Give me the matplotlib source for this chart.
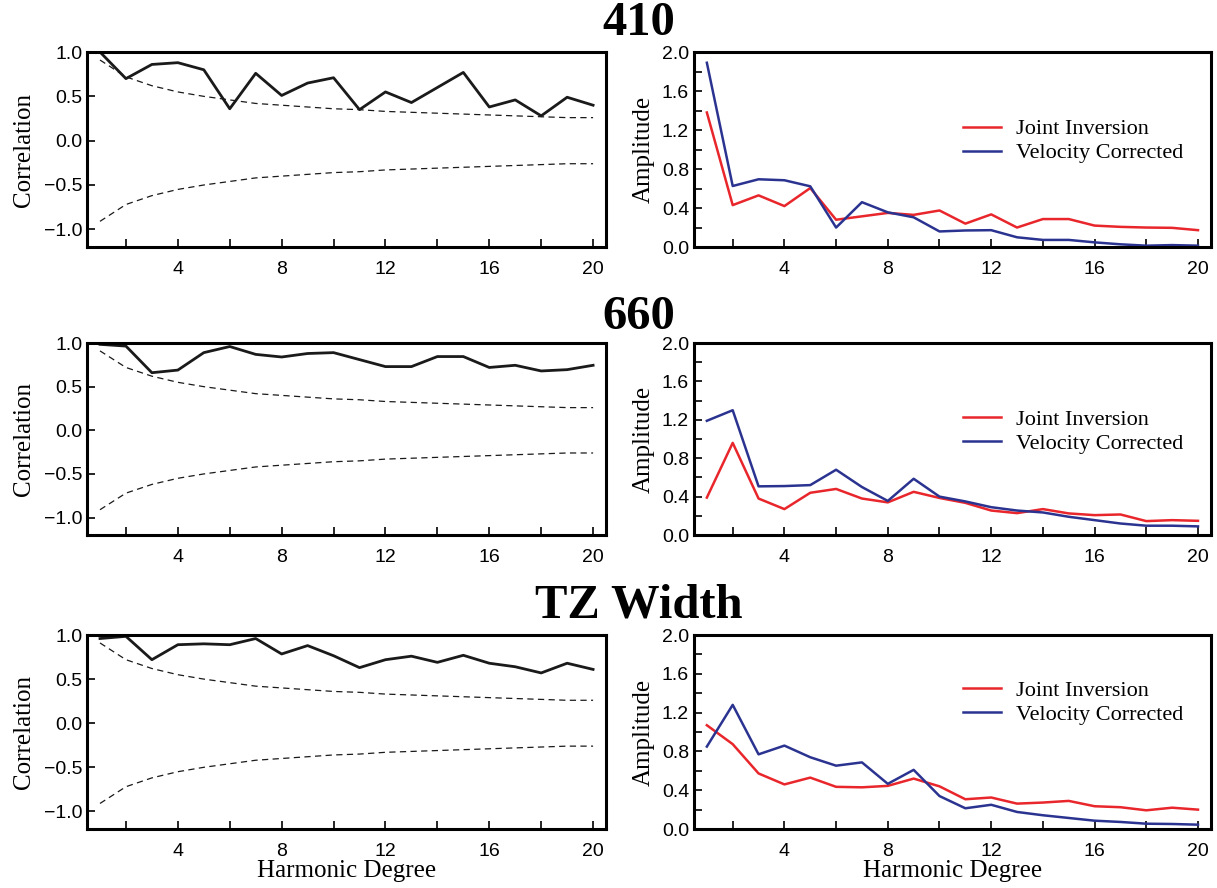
import matplotlib; matplotlib.use("Agg")
import matplotlib.pyplot as plt
from matplotlib.ticker import MultipleLocator
import numpy as np

deg = np.arange(1, 21)

# 95% significance bounds
sig = [0.91, 0.72, 0.62, 0.55, 0.50, 0.46, 0.42, 0.40, 0.38, 0.36,
       0.35, 0.33, 0.32, 0.31, 0.30, 0.29, 0.28, 0.27, 0.26, 0.26]

corr_410 = [1.00, 0.70, 0.86, 0.88, 0.80, 0.36, 0.76, 0.51, 0.65, 0.71,
            0.35, 0.55, 0.43, 0.60, 0.77, 0.38, 0.46, 0.28, 0.49, 0.40]
corr_660 = [0.985, 0.965, 0.66, 0.69, 0.89, 0.96, 0.87, 0.84, 0.88, 0.89,
            0.81, 0.73, 0.73, 0.845, 0.845, 0.72, 0.745, 0.68, 0.695, 0.745]
corr_tz = [0.96, 0.985, 0.72, 0.89, 0.90, 0.89, 0.96, 0.785, 0.88, 0.765,
           0.63, 0.72, 0.76, 0.69, 0.77, 0.68, 0.64, 0.57, 0.68, 0.61]

joint_410 = [1.38, 0.43, 0.53, 0.42, 0.605, 0.28, 0.315, 0.35, 0.33, 0.375,
             0.24, 0.335, 0.20, 0.287, 0.287, 0.22, 0.207, 0.20, 0.197, 0.173]
vel_410 = [1.89, 0.626, 0.695, 0.685, 0.623, 0.20, 0.46, 0.356, 0.305, 0.16,
           0.17, 0.173, 0.10, 0.073, 0.073, 0.048, 0.028, 0.014, 0.02, 0.014]
joint_660 = [0.39, 0.96, 0.38, 0.27, 0.44, 0.48, 0.38, 0.34, 0.45, 0.386,
             0.335, 0.255, 0.228, 0.27, 0.225, 0.207, 0.214, 0.145, 0.155, 0.148]
vel_660 = [1.19, 1.30, 0.507, 0.51, 0.52, 0.68, 0.50, 0.355, 0.586, 0.40,
           0.35, 0.29, 0.255, 0.235, 0.19, 0.155, 0.12, 0.097, 0.097, 0.09]
joint_tz = [1.07, 0.875, 0.573, 0.46, 0.53, 0.435, 0.43, 0.445, 0.52, 0.44,
            0.307, 0.325, 0.262, 0.273, 0.29, 0.235, 0.225, 0.193, 0.22, 0.20]
vel_tz = [0.85, 1.28, 0.77, 0.86, 0.74, 0.653, 0.687, 0.466, 0.61, 0.34,
          0.214, 0.25, 0.176, 0.142, 0.114, 0.086, 0.073, 0.055, 0.052, 0.045]

titles = ["410", "660", "TZ Width"]
corrs = [corr_410, corr_660, corr_tz]
joints = [joint_410, joint_660, joint_tz]
vels = [vel_410, vel_660, vel_tz]

SERIF = "Liberation Serif"
SANS = "Liberation Sans"
RED = "#e8262b"; BLUE = "#2b3390"

fig = plt.figure(figsize=(12.17, 8.88), dpi=100)
rows = [(0.7218, 0.2196), (0.3975, 0.2162), (0.0664, 0.2185)]
title_y = [0.974, 0.643, 0.318]
leg_y = [0.76, 0.76, 0.87]

def style(ax):
    for s in ax.spines.values():
        s.set_linewidth(2.2)
    ax.tick_params(direction="in", length=6, width=1.2, labelsize=14)
    ax.tick_params(which="minor", direction="in", length=6, width=1.2)
    ax.tick_params(axis="x", pad=10)
    for lab in ax.get_xticklabels() + ax.get_yticklabels():
        lab.set_family(SANS)
    ax.set_xlim(0.5, 20.5)
    ax.xaxis.set_major_locator(MultipleLocator(4))
    ax.xaxis.set_minor_locator(MultipleLocator(2))

for i, (b, h) in enumerate(rows):
    axl = fig.add_axes([0.0715, b, 0.4265, h])
    axl.plot(deg, corrs[i], color="#1a1a1a", lw=2.0)
    axl.plot(deg, sig, "--", color="#1a1a1a", lw=0.9, dashes=(5, 3.5))
    axl.plot(deg, -np.array(sig), "--", color="#1a1a1a", lw=0.9, dashes=(5, 3.5))
    axl.set_ylim(-1.2, 1.0)
    axl.set_yticks([-1.0, -0.5, 0.0, 0.5, 1.0])
    axl.set_ylabel("Correlation", family=SERIF, fontsize=18, labelpad=6)
    style(axl)

    axr = fig.add_axes([0.5702, b, 0.4248, h])
    axr.plot(deg, joints[i], color=RED, lw=1.8, label="Joint Inversion")
    axr.plot(deg, vels[i], color=BLUE, lw=1.8, label="Velocity Corrected")
    axr.set_ylim(0, 2.0)
    axr.yaxis.set_major_locator(MultipleLocator(0.4))
    axr.yaxis.set_minor_locator(MultipleLocator(0.2))
    axr.set_ylabel("Amplitude", family=SERIF, fontsize=18, labelpad=5)
    style(axr)
    axr.legend(loc="upper left", bbox_to_anchor=(0.482, leg_y[i]), frameon=False,
               prop={"family": SERIF, "size": 16}, handlelength=1.7,
               labelspacing=0.15, handletextpad=0.7)

    fig.text(0.525, title_y[i], titles[i], ha="center", va="center",
             family=SERIF, weight="bold", fontsize=35)

    if i == 2:
        axl.set_xlabel("Harmonic Degree", family=SERIF, fontsize=18, labelpad=0)
        axr.set_xlabel("Harmonic Degree", family=SERIF, fontsize=18, labelpad=0)

fig.savefig("out.png", dpi=100)
